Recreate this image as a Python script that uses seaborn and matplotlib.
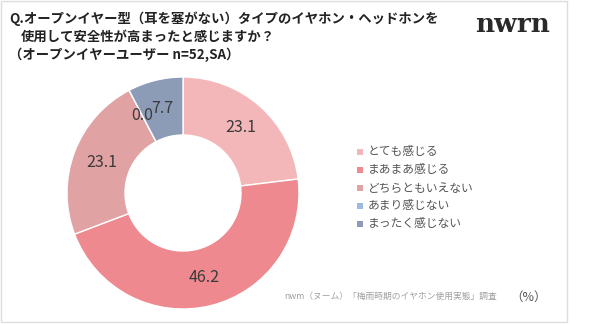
import matplotlib
matplotlib.use("Agg")
import matplotlib.pyplot as plt
import seaborn as sns
from matplotlib.patches import Rectangle

sns.set_theme(style="white")
plt.rcParams['font.family'] = ['Noto Sans CJK JP', 'DejaVu Sans']

categories = ["とても感じる", "まあまあ感じる", "どちらともいえない", "あまり感じない", "まったく感じない"]
values = [23.1, 46.2, 23.1, 0.0, 7.7]
colors = ["#F4B7B9", "#EE8A8F", "#E0A2A3", "#9DB8E3", "#8D9CB6"]

W, H = 599, 324
fig = plt.figure(figsize=(W / 100, H / 100), dpi=100)
fig.patch.set_facecolor("white")

# card border
fig.add_artist(Rectangle((1 / W, 1 - 322 / H), 566 / W, 321 / H, transform=fig.transFigure,
                         fill=False, edgecolor="#DDDDDD", linewidth=1.0))

cx, cy, r = 183, 193, 116
ax = fig.add_axes([(cx - r) / W, (H - cy - r) / H, 2 * r / W, 2 * r / H])
wedges, texts = ax.pie(values, colors=colors, startangle=90, counterclock=False,
                       radius=1.0, labels=[f"{v:.1f}" for v in values], labeldistance=0.75,
                       wedgeprops=dict(width=0.5, edgecolor="white", linewidth=1.0),
                       textprops=dict(fontsize=11.5, color="#3a3a3a"))
for t in texts:
    t.set_ha("center")
    t.set_va("center")
ax.set_xlim(-1, 1)
ax.set_ylim(-1, 1)
ax.set_aspect("equal")
ax.axis("off")

# title
title_kw = dict(fontsize=9.6, color="#222222", fontweight="bold", va="center", ha="left")
fig.text(9 / W, 1 - 19 / H, "Q.オープンイヤー型（耳を塞がない）タイプのイヤホン・ヘッドホンを", **title_kw)
fig.text(21 / W, 1 - 37 / H, "使用して安全性が高まったと感じますか？", **title_kw)
fig.text(9 / W, 1 - 55 / H, "（オープンイヤーユーザー n=52,SA）", **title_kw)

# logo
fig.text(513 / W, 1 - 24 / H, "nwrn", fontsize=19, family="DejaVu Serif", fontweight="bold",
         color="#2a2a2a", ha="center", va="center")

# legend
legend_y = [152, 170, 188, 206, 224]
for lbl, col, yy in zip(categories, colors, legend_y):
    fig.add_artist(Rectangle(((357) / W, 1 - (yy + 3) / H), 6 / W, 6 / H,
                             transform=fig.transFigure, facecolor=col, edgecolor="none"))
    fig.text(368 / W, 1 - yy / H, lbl, fontsize=8.5, color="#555555", va="center", ha="left")

# footer
fig.text(284 / W, 1 - 296 / H, "nwm（ヌーム）「梅雨時期のイヤホン使用実態」調査", fontsize=6.3,
         color="#a0a0a0", va="center", ha="left")
fig.text(510 / W, 1 - 297 / H, "（%）", fontsize=9, color="#555555", va="center", ha="left")

fig.savefig("out.png", dpi=100, facecolor="white")
